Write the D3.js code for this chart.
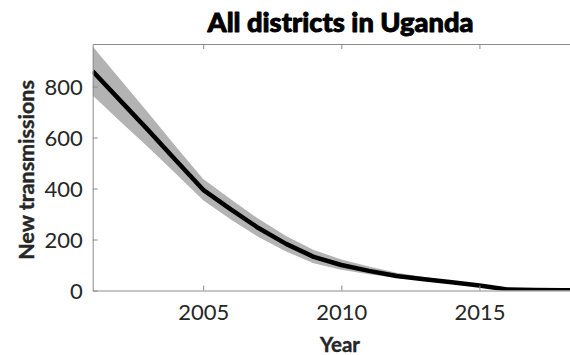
<!DOCTYPE html>
<html>
<head>
<meta charset="utf-8">
<script src="https://cdn.jsdelivr.net/npm/d3@7"></script>
<style>
  html, body { margin: 0; padding: 0; background: #fff; }
  svg { display: block; }
  text { font-family: Lato, "Noto Sans", sans-serif; }
</style>
</head>
<body>
<svg id="chart" width="570" height="355"></svg>
<script>
// ---- data ----
const years  = [2001, 2002, 2003, 2004, 2005, 2006, 2007, 2008, 2009, 2010, 2011, 2012, 2013, 2014, 2015, 2016, 2017, 2018, 2019];
const median = [860, 745, 630, 512, 395, 318, 245, 183, 132, 100, 77, 57, 44, 32, 20, 4, 2, 1, 1];
const upper  = [957, 828, 698, 566, 437, 358, 281, 214, 159, 122, 94, 70, 53, 38, 24, 5, 2, 1, 1];
const lower  = [765, 663, 563, 459, 354, 279, 210, 153, 107, 81, 64, 49, 39, 29, 18, 3, 2, 1, 1];
const xTicks = [2005, 2010, 2015];
const yTicks = [0, 200, 400, 600, 800];
const title = "All districts in Uganda";
const xLabel = "Year";
const yLabel = "New transmissions";

// ---- layout ----
const svg = d3.select("#chart");
const mLeft = 92.7, mTop = 44, mBottom = 290.5, mRight = 589.9;
const x = d3.scaleLinear().domain([2001, 2019]).range([mLeft, mRight]);
const y = d3.scaleLinear().domain([0, 967]).range([mBottom, mTop]);

const rows = years.map((yr, i) => ({ yr, m: median[i], u: upper[i], l: lower[i] }));

svg.append("defs").append("clipPath").attr("id", "clip")
  .append("rect").attr("x", mLeft).attr("y", mTop).attr("width", mRight - mLeft).attr("height", mBottom - mTop);

const plot = svg.append("g").attr("clip-path", "url(#clip)");

plot.append("path")
  .datum(rows)
  .attr("fill", "#b3b3b3")
  .attr("d", d3.area().x(d => x(d.yr)).y0(d => y(d.l)).y1(d => y(d.u)));

plot.append("path")
  .datum(rows)
  .attr("fill", "none")
  .attr("stroke", "#000")
  .attr("stroke-width", 4.5)
  .attr("stroke-linejoin", "round")
  .attr("d", d3.line().x(d => x(d.yr)).y(d => y(d.m)));

// ---- axes ----
const axisColor = "#8c8c8c";
const labelColor = "#262626";

const xAxis = svg.append("g").attr("transform", `translate(0,${mBottom})`)
  .call(d3.axisBottom(x).tickValues(xTicks).tickFormat(d3.format("d")).tickSizeInner(-5).tickSizeOuter(0).tickPadding(14));
const xTop = svg.append("g").attr("transform", `translate(0,${mTop})`)
  .call(d3.axisTop(x).tickValues(xTicks).tickFormat("").tickSizeInner(-5).tickSizeOuter(0));
const yAxis = svg.append("g").attr("transform", `translate(${mLeft},0)`)
  .call(d3.axisLeft(y).tickValues(yTicks).tickSizeInner(-5).tickSizeOuter(0).tickPadding(10));

[xAxis, xTop, yAxis].forEach(g => {
  g.select(".domain").attr("stroke", axisColor).attr("stroke-width", 1);
  g.selectAll(".tick line").attr("stroke", axisColor);
  g.selectAll(".tick text").attr("fill", labelColor).attr("font-size", 22)
    .attr("font-family", "Lato, 'Noto Sans', sans-serif");
});
yAxis.selectAll(".tick text").attr("dy", "0.36em");

// ---- titles ----
const t = svg.append("text")
  .attr("x", 340.5).attr("y", 32)
  .attr("text-anchor", "middle")
  .attr("font-size", 23).attr("font-weight", 900)
  .attr("fill", "#000")
  .attr("stroke", "#000").attr("stroke-width", 0.9).attr("stroke-linejoin", "round")
  .text(title);
const tw = t.node().getComputedTextLength();
t.attr("font-size", 23 * 266 / tw);

svg.append("text")
  .attr("x", 340).attr("y", 352)
  .attr("text-anchor", "middle")
  .attr("font-size", 20.5).attr("font-weight", 700)
  .attr("fill", labelColor)
  .attr("stroke", labelColor).attr("stroke-width", 0.4)
  .text(xLabel);

svg.append("text")
  .attr("transform", `translate(34,${170}) rotate(-90)`)
  .attr("text-anchor", "middle")
  .attr("font-size", 21.5).attr("font-weight", 700)
  .attr("fill", labelColor)
  .attr("stroke", labelColor).attr("stroke-width", 0.4)
  .text(yLabel);
</script>
</body>
</html>
